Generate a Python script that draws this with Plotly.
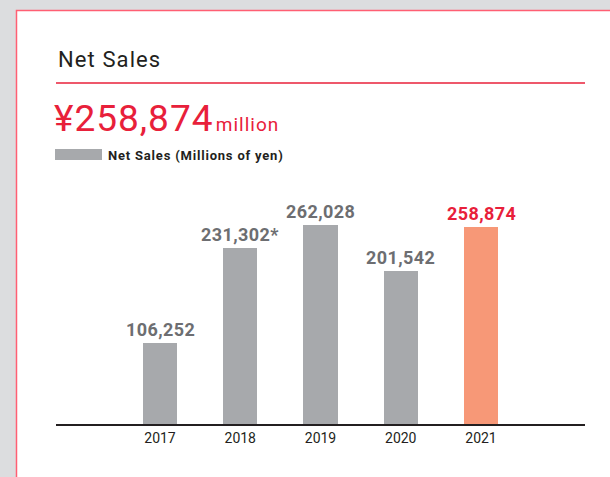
import plotly.graph_objects as go

years = ["2017", "2018", "2019", "2020", "2021"]
net_sales = [106252, 231302, 262028, 201542, 258874]
label_suffix = ["", "*", "", "", ""]
bar_colors = ["#a7a9ac", "#a7a9ac", "#a7a9ac", "#a7a9ac", "#f79877"]
label_colors = ["#6d6e71", "#6d6e71", "#6d6e71", "#6d6e71", "#e8203a"]

W, H = 610, 477
L, R, T, B = 56, 25, 180, 53
pw, ph = W - L - R, H - T - B

def px(x):
    return (x - L) / pw

def py(y):
    return (H - B - y) / ph

FONT = "Roboto"
xs = list(range(len(years)))

fig = go.Figure()
fig.add_trace(go.Bar(
    x=xs, y=net_sales, width=0.424,
    marker=dict(color=bar_colors, line=dict(width=0)),
    hoverinfo="skip", showlegend=False,
))

annotations = []
for i, v in enumerate(net_sales):
    annotations.append(dict(
        x=i, y=v, xref="x", yref="y",
        text=f"<span style='letter-spacing:0.4px'>{v:,}{label_suffix[i]}</span>",
        showarrow=False, yanchor="bottom", yshift=1,
        font=dict(family=FONT, size=18, color=label_colors[i], weight="bold"),
    ))

annotations += [
    dict(x=px(56), y=py(60), xref="paper", yref="paper",
         text="<span style='letter-spacing:1.1px'>Net Sales</span>",
         showarrow=False, xanchor="left", yanchor="middle",
         font=dict(family=FONT, size=22, color="#231f20")),
    dict(x=px(52), y=py(118), xref="paper", yref="paper",
         text="<span style='letter-spacing:1px'>¥258,874</span><span style='font-size:9px'> </span><span style='font-size:19px;letter-spacing:1px'>million</span>",
         showarrow=False, xanchor="left", yanchor="middle",
         font=dict(family=FONT, size=37, color="#e8203a")),
    dict(x=px(106), y=py(155), xref="paper", yref="paper",
         text="<span style='letter-spacing:0.8px'>Net Sales (Millions of yen)</span>",
         showarrow=False, xanchor="left", yanchor="middle",
         font=dict(family=FONT, size=13, color="#231f20", weight="bold")),
]

shapes = [
    dict(type="rect", xref="paper", yref="paper",
         x0=px(16.5), x1=px(640), y0=py(10.5), y1=py(520),
         fillcolor="white", line=dict(color="#ff5f73", width=1.5), layer="below"),
    dict(type="line", xref="paper", yref="paper",
         x0=px(56), x1=px(585), y0=py(83), y1=py(83),
         line=dict(color="#e8203a", width=1.5)),
    dict(type="rect", xref="paper", yref="paper",
         x0=px(55), x1=px(102), y0=py(149), y1=py(160),
         fillcolor="#a7a9ac", line=dict(width=0)),
]

fig.update_layout(
    width=W, height=H,
    margin=dict(l=L, r=R, t=T, b=B, pad=0),
    paper_bgcolor="#dcdddf", plot_bgcolor="rgba(0,0,0,0)",
    annotations=annotations, shapes=shapes,
    bargap=0,
    xaxis=dict(
        range=[-1.296, 5.296], tickvals=xs, ticktext=years,
        showgrid=False, zeroline=False, showline=True,
        linecolor="#231f20", linewidth=2, ticks="",
        tickfont=dict(family=FONT, size=14, color="#231f20"),
        fixedrange=True,
    ),
    yaxis=dict(range=[0, 321400], visible=False, fixedrange=True),
)

fig.write_html("out.html", config={"displayModeBar": False},
               post_script="document.body.style.margin='0';document.body.style.overflow='hidden';")
